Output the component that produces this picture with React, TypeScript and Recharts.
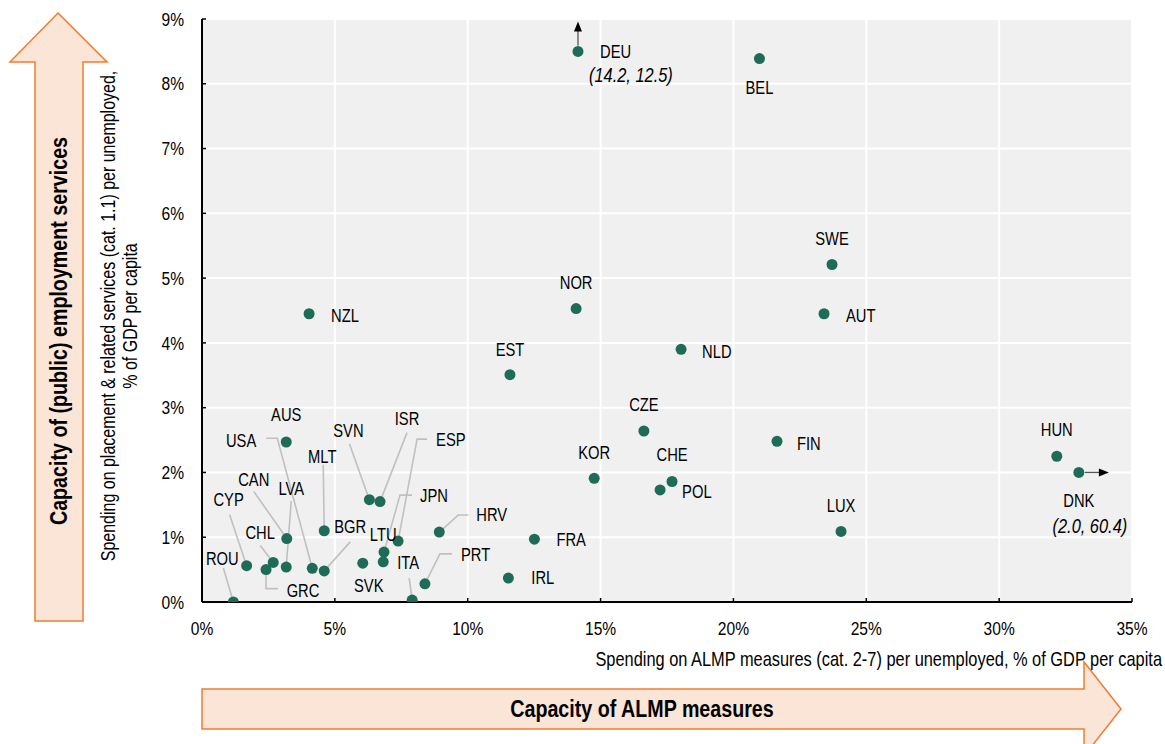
import React from 'react';
import { ScatterChart, Scatter, XAxis, YAxis, CartesianGrid, LabelList } from 'recharts';

// ---------- Data ----------
const countries = [
  'DEU', 'BEL', 'SWE', 'NOR', 'AUT', 'NZL', 'NLD', 'EST', 'CZE', 'FIN',
  'HUN', 'DNK', 'KOR', 'CHE', 'POL', 'LUX', 'FRA', 'IRL', 'HRV', 'PRT',
  'AUS', 'USA', 'CAN', 'LVA', 'CYP', 'CHL', 'GRC', 'ROU', 'MLT', 'BGR',
  'SVN', 'ISR', 'ESP', 'JPN', 'LTU', 'SVK', 'ITA',
];
// Spending on ALMP measures (cat. 2-7) per unemployed, % of GDP per capita (plotted, capped)
const almpSpending = [
  14.15, 20.98, 23.71, 14.08, 23.41, 4.03, 18.03, 11.59, 16.63, 21.64,
  32.17, 33.0, 14.76, 17.69, 17.24, 24.05, 12.51, 11.53, 8.93, 8.39,
  3.17, 4.15, 3.19, 3.17, 1.68, 2.68, 2.41, 1.18, 4.6, 4.6,
  6.3, 6.7, 7.38, 6.85, 6.82, 6.05, 7.91,
];
// Spending on placement & related services (cat. 1.1) per unemployed, % of GDP per capita (plotted, capped)
const pesSpending = [
  8.5, 8.39, 5.21, 4.53, 4.45, 4.45, 3.9, 3.51, 2.64, 2.48,
  2.25, 2.0, 1.91, 1.86, 1.73, 1.09, 0.97, 0.37, 1.08, 0.28,
  2.47, 0.52, 0.98, 0.54, 0.56, 0.61, 0.5, 0.0, 1.1, 0.48,
  1.58, 1.55, 0.94, 0.77, 0.62, 0.6, 0.03,
];
// Off-scale countries: actual values (x, y) noted in the chart
const offScaleNotes: Record<string, string> = { DEU: '(14.2, 12.5)', DNK: '(2.0, 60.4)' };
const offScaleDirection: Record<string, 'up' | 'right'> = { DEU: 'up', DNK: 'right' };

const xTicks = [0, 5, 10, 15, 20, 25, 30, 35];
const yTicks = [0, 1, 2, 3, 4, 5, 6, 7, 8, 9];

const xTitle = 'Spending on ALMP measures (cat. 2-7) per unemployed, % of GDP per capita';
const yTitleLine1 = 'Spending on placement & related services (cat. 1.1)  per unemployed,';
const yTitleLine2 = '% of GDP per capita';
const xArrowText = 'Capacity of ALMP measures';
const yArrowText = 'Capacity of (public) employment services';

// ---------- Label layout (pixel offsets relative to the dot) ----------
type Anchor = 'start' | 'middle' | 'end';
type Layout = { dx: number; dy: number; anchor?: Anchor; leader?: number[][]; note?: { dx: number; dy: number; anchor?: Anchor } };
const labelLayout: Record<string, Layout> = {
  DEU: { dx: 22, dy: 0, anchor: 'start', note: { dx: 11, dy: 24, anchor: 'start' } },
  BEL: { dx: 0, dy: 29 },
  SWE: { dx: 0, dy: -26 },
  NOR: { dx: 0, dy: -26 },
  AUT: { dx: 22, dy: 2, anchor: 'start' },
  NZL: { dx: 22, dy: 2, anchor: 'start' },
  NLD: { dx: 21, dy: 2, anchor: 'start' },
  EST: { dx: 0, dy: -25 },
  CZE: { dx: 0, dy: -26 },
  FIN: { dx: 20, dy: 2, anchor: 'start' },
  HUN: { dx: 0, dy: -27 },
  DNK: { dx: 0, dy: 28, note: { dx: 11, dy: 54 } },
  KOR: { dx: 0, dy: -26 },
  CHE: { dx: 0, dy: -27 },
  POL: { dx: 22, dy: 2, anchor: 'start' },
  LUX: { dx: 0, dy: -26 },
  FRA: { dx: 22, dy: 1, anchor: 'start' },
  IRL: { dx: 23, dy: 0, anchor: 'start' },
  HRV: { dx: 37, dy: -17, anchor: 'start', leader: [[29, -17], [19, -17]] },
  PRT: { dx: 36, dy: -29, anchor: 'start', leader: [[27, -30], [15, -30]] },
  AUS: { dx: 0, dy: -27 },
  USA: { dx: -56, dy: -128, anchor: 'end', leader: [[-46, -130], [-35, -130]] },
  CAN: { dx: -33, dy: -59, leader: [[-33, -47]] },
  LVA: { dx: 5, dy: -78, leader: [[5, -66]] },
  CYP: { dx: -18, dy: -66, leader: [[-17, -51]] },
  CHL: { dx: -13, dy: -30, leader: [[-13, -17]] },
  GRC: { dx: 37, dy: 21, leader: [[12, 19], [0, 19]] },
  ROU: { dx: -11, dy: -43, leader: [[-10, -34]] },
  MLT: { dx: -2, dy: -74, leader: [[-1, -66]] },
  BGR: { dx: 26, dy: -44, leader: [[26, -29]] },
  SVN: { dx: -21, dy: -69, leader: [[-20, -56]] },
  ISR: { dx: 27, dy: -83, leader: [[27, -69]] },
  ESP: { dx: 38, dy: -101, anchor: 'start', leader: [[29, -102], [19, -102]] },
  JPN: { dx: 36, dy: -56, anchor: 'start', leader: [[28, -57], [16, -57]] },
  LTU: { dx: 0, dy: -27 },
  SVK: { dx: 6, dy: 23 },
  ITA: { dx: -4, dy: -37, leader: [[-3, -22]] },
};

// ---------- Styles ----------
const FONT = "'Liberation Sans', Arial, sans-serif";
const NARROW = 0.82; // Arial Narrow look
const DOT = '#1e6c58';
const LEADER = '#c0c0c0';
const ARROW_FILL = '#fbe5d6';
const ARROW_STROKE = '#ed7d31';

const points = countries.map((c, i) => ({ country: c, x: almpSpending[i], y: pesSpending[i] }));

type NTextProps = {
  x: number; y: number; anchor?: Anchor; size: number; dy?: string; rotate?: number;
  bold?: boolean; italic?: boolean; children: React.ReactNode;
};
const NText = ({ x, y, anchor = 'middle', size, dy, rotate, bold, italic, children }: NTextProps) => (
  <text
    transform={`translate(${x},${y})${rotate ? ` rotate(${rotate})` : ''} scale(${NARROW},1)`}
    x={0}
    y={0}
    dy={dy}
    textAnchor={anchor}
    fontFamily={FONT}
    fontSize={size}
    fontWeight={bold ? 'bold' : 'normal'}
    fontStyle={italic ? 'italic' : 'normal'}
    fill="#000"
  >
    {children}
  </text>
);

const YTick = (props: any) => {
  const { x, y, payload } = props;
  return <NText x={x} y={y} anchor="end" size={19} dy="0.35em">{`${payload.value}%`}</NText>;
};
const XTick = (props: any) => {
  const { x, y, payload } = props;
  return <NText x={x} y={y} anchor="middle" size={19} dy="0.71em">{`${payload.value}%`}</NText>;
};

const LeaderShape = (props: any) => {
  const { cx, cy, payload } = props;
  const lay = labelLayout[payload.country];
  if (!lay || !lay.leader) return <g />;
  const pts = [...lay.leader, [0, 0]].map(([dx, dy]) => `${cx + dx},${cy + dy}`).join(' ');
  return <polyline points={pts} fill="none" stroke={LEADER} strokeWidth={1.6} />;
};

const DotShape = (props: any) => {
  const { cx, cy, payload } = props;
  const dir = offScaleDirection[payload.country];
  return (
    <g>
      {dir === 'up' && (
        <g>
          <line x1={cx} y1={cy - 6} x2={cx} y2={cy - 21} stroke="#555" strokeWidth={1.3} />
          <polygon points={`${cx - 4},${cy - 20} ${cx + 4},${cy - 20} ${cx},${cy - 30}`} fill="#000" />
        </g>
      )}
      {dir === 'right' && (
        <g>
          <line x1={cx + 6} y1={cy} x2={cx + 21} y2={cy} stroke="#555" strokeWidth={1.3} />
          <polygon points={`${cx + 20},${cy - 4} ${cx + 20},${cy + 4} ${cx + 30},${cy}`} fill="#000" />
        </g>
      )}
      <circle cx={cx} cy={cy} r={5.5} fill={DOT} />
    </g>
  );
};

const CountryLabel = (props: any) => {
  const { x, y, width, height, value } = props;
  const cx = x + (width || 0) / 2;
  const cy = y + (height || 0) / 2;
  const lay = labelLayout[value] || { dx: 0, dy: -26 };
  const note = offScaleNotes[value];
  return (
    <g>
      <NText x={cx + lay.dx} y={cy + lay.dy} dy="0.35em" anchor={lay.anchor || 'middle'} size={18}>
        {value}
      </NText>
      {note && lay.note && (
        <NText x={cx + lay.note.dx} y={cy + lay.note.dy} dy="0.35em" anchor={lay.note.anchor || 'middle'} size={20} italic>
          {note}
        </NText>
      )}
    </g>
  );
};

export default function App() {
  const W = 1165;
  const H = 744;
  return (
    <div style={{ position: 'absolute', left: 0, top: 0, width: W, height: H, background: '#fff', overflow: 'hidden' }}>
      <ScatterChart width={W} height={H} margin={{ top: 19, right: 33, bottom: 112, left: 172 }}>
        <CartesianGrid fill="#f0f0f0" stroke="#ffffff" strokeWidth={2} fillOpacity={1} />
        <XAxis
          type="number"
          dataKey="x"
          domain={[0, 35]}
          ticks={xTicks}
          height={30}
          tickSize={-4}
          tickMargin={24}
          axisLine={{ stroke: '#000', strokeWidth: 2 }}
          tickLine={{ stroke: '#000', strokeWidth: 1.5 }}
          tick={XTick}
          interval={0}
          allowDataOverflow
        />
        <YAxis
          type="number"
          dataKey="y"
          domain={[0, 9]}
          ticks={yTicks}
          width={30}
          tickSize={-4}
          tickMargin={22}
          axisLine={{ stroke: '#000', strokeWidth: 2 }}
          tickLine={{ stroke: '#000', strokeWidth: 1.5 }}
          tick={YTick}
          interval={0}
          allowDataOverflow
        />
        <Scatter data={points} shape={LeaderShape} isAnimationActive={false} />
        <Scatter data={points} shape={DotShape} isAnimationActive={false}>
          <LabelList dataKey="country" content={CountryLabel} />
        </Scatter>
      </ScatterChart>
      <svg width={W} height={H} style={{ position: 'absolute', left: 0, top: 0, pointerEvents: 'none' }}>
        {/* vertical arrow */}
        <polygon
          points="58,13 107,62 83,62 83,621 35,621 35,62 10,62"
          fill={ARROW_FILL}
          stroke={ARROW_STROKE}
          strokeWidth={1.5}
        />
        <NText x={67} y={331} rotate={-90} anchor="middle" size={24} bold>
          {yArrowText}
        </NText>
        {/* horizontal arrow */}
        <polygon
          points="202,689 1084,689 1084,662 1121,709 1084,756 1084,729 202,729"
          fill={ARROW_FILL}
          stroke={ARROW_STROKE}
          strokeWidth={1.5}
        />
        <NText x={642} y={717} anchor="middle" size={24} bold>
          {xArrowText}
        </NText>
        {/* axis titles */}
        <NText x={1162} y={666} anchor="end" size={20}>
          {xTitle}
        </NText>
        <NText x={115} y={316} rotate={-90} anchor="middle" size={19.5}>
          {yTitleLine1}
        </NText>
        <NText x={137} y={316} rotate={-90} anchor="middle" size={19.5}>
          {yTitleLine2}
        </NText>
      </svg>
    </div>
  );
}
